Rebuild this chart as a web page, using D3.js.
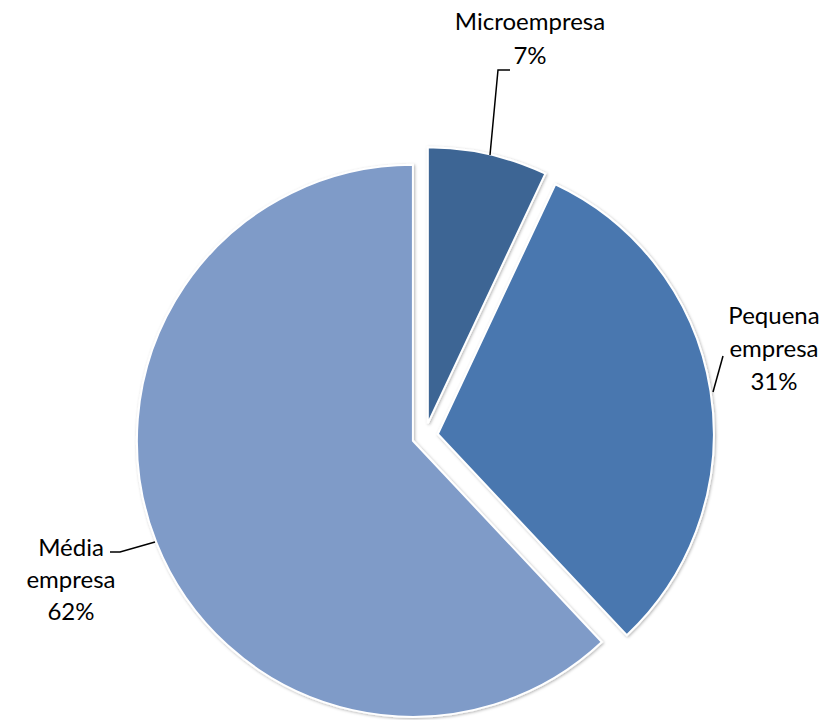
<!DOCTYPE html>
<html><head><meta charset="utf-8">
<script src="https://cdn.jsdelivr.net/npm/d3@7"></script>
<style>body{margin:0;background:#fff}</style>
</head><body>
<svg id="c" width="826" height="720"></svg>
<script>
const categories = ["Microempresa", "Pequena empresa", "Média empresa"];
const values = [7, 31, 62];
const labelLines = [["Microempresa", "7%"], ["Pequena", "empresa", "31%"], ["Média", "empresa", "62%"]];
const colors = ["#3d6594", "#4877af", "#7f9bc8"];

const svg = d3.select("#c");
const defs = svg.append("defs");
const f = defs.append("filter").attr("id", "sh").attr("x", "-20%").attr("y", "-20%").attr("width", "140%").attr("height", "140%");
f.append("feDropShadow").attr("dx", 1).attr("dy", 1).attr("stdDeviation", 1.5).attr("flood-color", "#000").attr("flood-opacity", 0.3);

const cx = 425, cy = 436, r = 276, explode = 13;
const pie = d3.pie().sort(null).value(d => d);
const arcs = pie(values);
const arc = d3.arc().innerRadius(0).outerRadius(r);

const g = svg.append("g").attr("transform", `translate(${cx},${cy})`);
g.selectAll("path").data(arcs).enter().append("path")
  .attr("transform", d => {
    const a = (d.startAngle + d.endAngle) / 2;
    return `translate(${explode * Math.sin(a)},${-explode * Math.cos(a)})`;
  })
  .attr("d", arc)
  .attr("fill", (d, i) => colors[i])
  .attr("stroke", "#fff").attr("stroke-width", 2)
  .attr("filter", "url(#sh)");

// labels
const labelPos = [
  {x: 530, y: 30, lh: 34, line: [[490, 155], [498, 70], [510, 70]]},
  {x: 774, y: 324, lh: 33, line: [[713, 392], [723, 356]]},
  {x: 71, y: 556, lh: 32, line: [[155, 542], [120, 552], [110, 552]]}
];
const fs = 24;
labelPos.forEach((p, i) => {
  svg.append("path")
    .attr("d", d3.line()(p.line))
    .attr("fill", "none").attr("stroke", "#000").attr("stroke-width", 1.5);
  const t = svg.append("text").attr("text-anchor", "middle")
    .attr("font-family", "Lato, 'Noto Sans', sans-serif").attr("font-size", fs).attr("fill", "#000");
  labelLines[i].forEach((s, j) => {
    t.append("tspan").attr("x", p.x).attr("y", p.y + j * p.lh).text(s);
  });
});
</script>
</body></html>
